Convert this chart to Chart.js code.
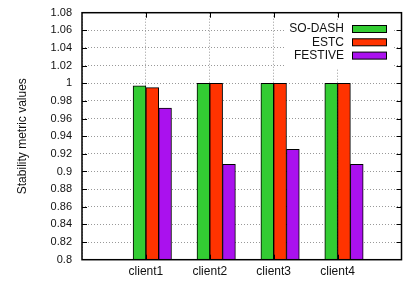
<!DOCTYPE html>
<html>
<head>
<meta charset="utf-8">
<script src="https://cdn.jsdelivr.net/npm/chart.js@4"></script>
<style>
  html, body { margin: 0; padding: 0; background: #fff; }
  #wrap { width: 411px; height: 287px; }
</style>
</head>
<body>
<div id="wrap"><canvas id="stabilityChart" width="411" height="287"></canvas></div>
<script>
// values
const categories = ["client1", "client2", "client3", "client4"];
const soDash = [0.997, 1.0, 1.0, 1.0];
const estc = [0.995, 1.0, 1.0, 1.0];
const festive = [0.972, 0.908, 0.925, 0.908];
const seriesNames = ["SO-DASH", "ESTC", "FESTIVE"];
const seriesColors = ["#33cc33", "#ff3300", "#aa11ee"];
const yMin = 0.8, yMax = 1.08, yStep = 0.02;

const fontFamily = "'Liberation Sans', Arial, sans-serif";

function points(values) {
  return values.map(function (v, i) { return { x: i, y: v }; });
}

// box, inward ticks and legend drawn on top of the grid
const framePlugin = {
  id: "frame",
  afterDatasetsDraw: function (chart) {
    const ctx = chart.ctx;
    const area = chart.chartArea;
    const xs = chart.scales.x;
    const ys = chart.scales.y;
    ctx.save();

    // legend
    ctx.fillStyle = "#fff";
    ctx.fillRect(286, 21, 108, 48);
    ctx.font = "12px " + fontFamily;
    ctx.textAlign = "right";
    ctx.textBaseline = "middle";
    chart.data.datasets.forEach(function (ds, i) {
      const cy = 29 + i * 13.3;
      ctx.fillStyle = "#111";
      ctx.fillText(ds.label, 344, cy);
      ctx.fillStyle = ds.backgroundColor;
      ctx.fillRect(352, cy - 3.5, 35, 7);
      ctx.strokeStyle = "#000";
      ctx.lineWidth = 1;
      ctx.strokeRect(352.5, cy - 3.5, 34, 7);
    });

    // tick marks
    ctx.strokeStyle = "#000";
    ctx.lineWidth = 1;
    ctx.beginPath();
    for (let v = yMin + yStep; v < yMax - yStep / 2; v += yStep) {
      const py = Math.round(ys.getPixelForValue(v)) + 0.5;
      ctx.moveTo(area.left, py); ctx.lineTo(area.left + 5, py);
      ctx.moveTo(area.right, py); ctx.lineTo(area.right - 5, py);
    }
    categories.forEach(function (c, i) {
      const px = Math.round(xs.getPixelForValue(i)) + 0.5;
      ctx.moveTo(px, area.bottom); ctx.lineTo(px, area.bottom - 5);
      ctx.moveTo(px, area.top); ctx.lineTo(px, area.top + 5);
    });
    ctx.stroke();

    // plot border
    ctx.lineWidth = 1.5;
    ctx.strokeRect(area.left, area.top, area.right - area.left, area.bottom - area.top);
    ctx.restore();
  }
};

const datasets = [soDash, estc, festive].map(function (values, i) {
  return {
    label: seriesNames[i],
    data: points(values),
    xAxisID: "xb",
    backgroundColor: seriesColors[i],
    borderColor: "#000",
    borderWidth: 1,
    borderSkipped: false,
    barThickness: 12.8
  };
});

const ctx = document.getElementById("stabilityChart").getContext("2d");
const stabilityChart = new Chart(ctx, {
  type: "bar",
  data: { datasets: datasets },
  options: {
    responsive: false,
    animation: false,
    layout: { padding: { top: 12.7, right: 9.5, left: 0, bottom: 0 } },
    plugins: {
      legend: { display: false },
      tooltip: { enabled: false }
    },
    scales: {
      x: {
        type: "linear",
        position: "bottom",
        offset: false,
        min: -1,
        max: 4,
        afterFit: function (scale) {
          scale.height = 27.3;
          scale.paddingLeft = 0;
          scale.paddingRight = 0;
        },
        ticks: {
          stepSize: 1,
          autoSkip: false,
          maxRotation: 0,
          padding: 5,
          color: "#111",
          font: { family: fontFamily, size: 12 },
          callback: function (v) { return categories[v] || ""; }
        },
        grid: {
          offset: false,
          color: "#999",
          lineWidth: 1,
          drawTicks: false
        },
        border: { display: false, dash: [1, 2] }
      },
      xb: {
        type: "linear",
        display: false,
        offset: false,
        min: -1.1,
        max: 3.9
      },
      y: {
        type: "linear",
        min: yMin,
        max: yMax,
        afterFit: function (scale) {
          scale.width = 82;
          scale.paddingTop = 0;
          scale.paddingBottom = 0;
        },
        ticks: {
          stepSize: yStep,
          padding: 10,
          color: "#111",
          font: { family: fontFamily, size: 11 },
          callback: function (v) { return parseFloat(v.toFixed(2)).toString(); }
        },
        grid: {
          color: "#999",
          lineWidth: 1,
          drawTicks: false
        },
        border: { display: false, dash: [1, 2] },
        title: {
          display: true,
          text: "Stability metric values",
          color: "#111",
          font: { family: fontFamily, size: 12 },
          padding: { top: 15.5, bottom: 0 }
        }
      }
    }
  },
  plugins: [framePlugin]
});
</script>
</body>
</html>
